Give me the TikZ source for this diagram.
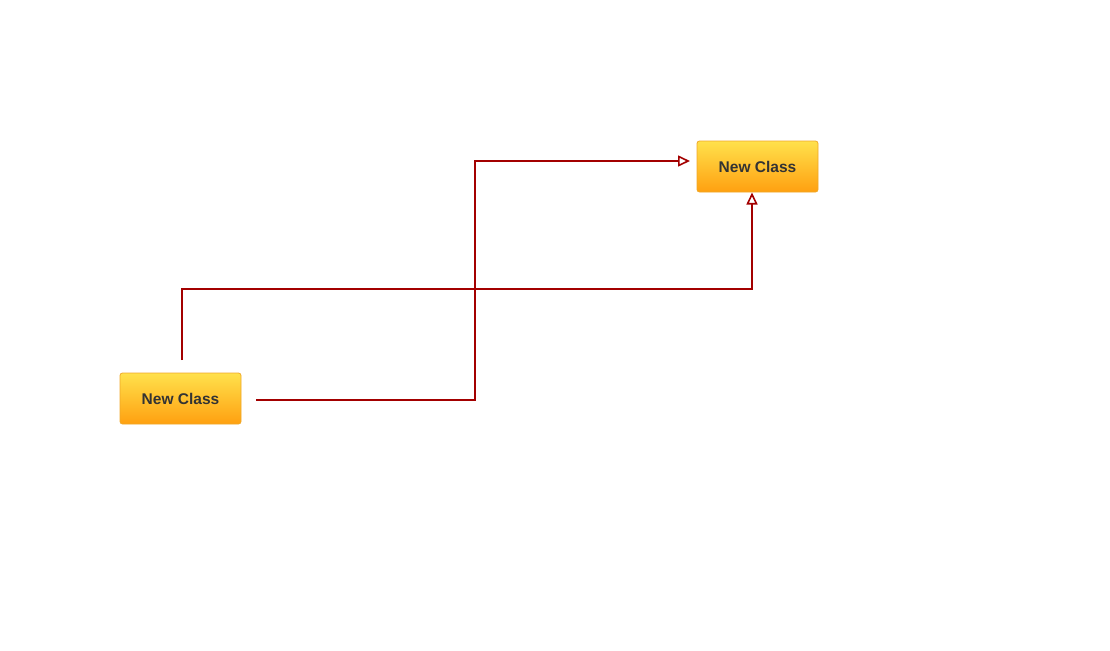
\documentclass[tikz,border=0pt]{standalone}
\usepackage{fontspec}
\setsansfont{Liberation Sans}
\usetikzlibrary{arrows.meta}
\definecolor{linkred}{HTML}{A30000}
\definecolor{boxtop}{HTML}{FFE14C}
\definecolor{boxbot}{HTML}{FFA010}
\definecolor{boxline}{HTML}{F0A828}
\definecolor{boxtext}{HTML}{333333}
\tikzset{
    classbox/.style={draw=boxline, line width=0.8pt, rounded corners=2.5pt, top color=boxtop, bottom color=boxbot,
        minimum width=121pt, minimum height=51pt, text=boxtext,
        font=\sffamily\bfseries\fontsize{15.5}{17}\selectfont},
    link/.style={draw=linkred, line width=1.6pt, -{Triangle[open, length=12pt, width=11pt]}}
}
\begin{document}
\begin{tikzpicture}[x=1pt,y=-1pt]
                \useasboundingbox (0,0) rectangle (1110,650);
                \node[classbox] (top) at (757.5,166.5) {New Class};
                \node[classbox] (low) at (180.5,398.5) {New Class};
                \coordinate (lowright) at (256,400);
                \coordinate (lowup) at (182,360);
                \coordinate (topleft) at (690,161);
                \coordinate (topunder) at (752,192.5);
                \draw[link] (lowright) -- (475,400) -- (475,161) -- (topleft);
                \draw[link] (lowup) -- (182,289) -- (752,289) -- (topunder);
            \end{tikzpicture}
\end{document}
